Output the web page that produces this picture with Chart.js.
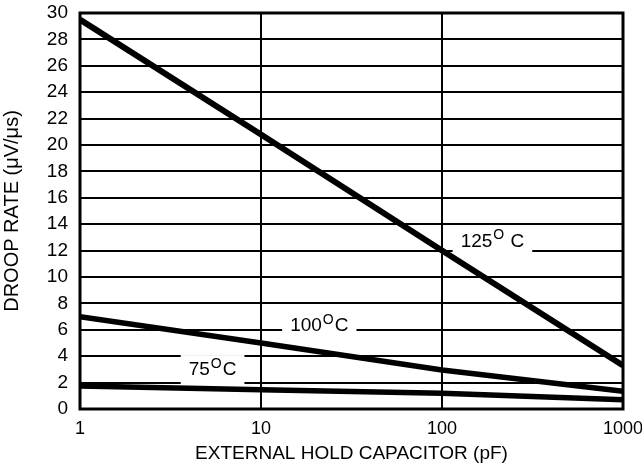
<!DOCTYPE html>
<html>
<head>
<meta charset="utf-8">
<script src="https://cdn.jsdelivr.net/npm/chart.js@4/dist/chart.umd.min.js"></script>
<style>
  html, body { margin: 0; padding: 0; background: #ffffff; }
  #wrap { width: 642px; height: 465px; position: relative; }
</style>
</head>
<body>
<div id="wrap"><canvas id="droopChart"></canvas></div>
<script>
const capacitance = [1, 10, 100, 1000];
const droop125 = [29.5, 20.8, 12.0, 3.3];
const droop100 = [7.0, 5.0, 2.95, 1.35];
const droop75 = [1.75, 1.45, 1.2, 0.7];
const xTicks = [1, 10, 100, 1000];
const yTicks = [0, 2, 4, 6, 8, 10, 12, 14, 16, 18, 20, 22, 24, 26, 28, 30];

const curveLabels = [
    { num: '125', gap: ' ', x: 190, y: 12.7 },
    { num: '100', gap: '', x: 21, y: 6.3 },
    { num: '75', gap: '', x: 5.4, y: 2.95 }
];

const font = '"Liberation Sans", Arial, Helvetica, sans-serif';

function toPoints(values) {
    return capacitance.map((c, i) => ({ x: c, y: values[i] }));
}

function lineSet(label, values, width) {
    return {
        label: label,
        data: toPoints(values),
        borderColor: '#000000',
        borderWidth: width,
        pointRadius: 0,
        tension: 0,
        fill: false
    };
}

const curveLabelPlugin = {
    id: 'curveLabels',
    beforeDatasetsDraw(chart) {
        const ctx = chart.ctx;
        const xs = chart.scales.x;
        const ys = chart.scales.y;
        ctx.save();
        curveLabels.forEach(l => {
            const big = '19px ' + font;
            const small = '14px ' + font;
            ctx.font = big;
            const w1 = ctx.measureText(l.num).width;
            const wc = ctx.measureText(l.gap + 'C').width;
            ctx.font = small;
            const wo = ctx.measureText('O').width;
            const total = w1 + 1 + wo + 1 + wc;
            const cx = xs.getPixelForValue(l.x);
            const cy = ys.getPixelForValue(l.y);
            ctx.fillStyle = '#ffffff';
            ctx.fillRect(cx - total / 2 - 8, cy - 15, total + 16, 30);
            ctx.fillStyle = '#000000';
            ctx.textBaseline = 'middle';
            ctx.textAlign = 'left';
            let x = cx - total / 2;
            ctx.font = big;
            ctx.fillText(l.num, x, cy);
            x += w1 + 1;
            ctx.font = small;
            ctx.fillText('O', x, cy - 6);
            x += wo + 1;
            ctx.font = big;
            ctx.fillText(l.gap + 'C', x, cy);
        });
        ctx.restore();
    },
    afterDraw(chart) {
        const a = chart.chartArea;
        const ctx = chart.ctx;
        ctx.save();
        ctx.strokeStyle = '#000000';
        ctx.lineWidth = 3;
        ctx.strokeRect(a.left, a.top, a.right - a.left, a.bottom - a.top);
        ctx.restore();
    }
};

function createDroopChart() {
    const ctx = document.getElementById('droopChart').getContext('2d');

    const config = {
        type: 'line',
        data: {
            datasets: [
                lineSet('125°C', droop125, 6),
                lineSet('100°C', droop100, 5.5),
                lineSet('75°C', droop75, 5.5)
            ]
        },
        options: {
            responsive: true,
            maintainAspectRatio: false,
            animation: false,
            layout: { padding: { top: 13, right: 19, left: 0, bottom: 0 } },
            plugins: {
                legend: { display: false },
                tooltip: { enabled: false }
            },
            scales: {
                x: {
                    type: 'logarithmic',
                    min: 1,
                    max: 1000,
                    afterBuildTicks: scale => {
                        scale.ticks = xTicks.map(v => ({ value: v }));
                    },
                    afterFit: scale => {
                        scale.height = 56;
                        scale.paddingLeft = 0;
                        scale.paddingRight = 0;
                    },
                    ticks: {
                        color: '#000000',
                        font: { family: font, size: 18 },
                        padding: 9,
                        maxRotation: 0,
                        autoSkip: false,
                        callback: v => String(v)
                    },
                    grid: { color: '#000000', lineWidth: 2, drawTicks: false },
                    border: { display: false },
                    title: {
                        display: true,
                        text: 'EXTERNAL HOLD CAPACITOR (pF)',
                        color: '#000000',
                        font: { family: font, size: 19 },
                        padding: { top: 0, bottom: 0 }
                    }
                },
                y: {
                    min: 0,
                    max: 30,
                    afterBuildTicks: scale => {
                        scale.ticks = yTicks.map(v => ({ value: v }));
                    },
                    afterFit: scale => {
                        scale.width = 80;
                        scale.paddingTop = 0;
                        scale.paddingBottom = 0;
                    },
                    ticks: {
                        color: '#000000',
                        font: { family: font, size: 19 },
                        padding: 12,
                        autoSkip: false
                    },
                    grid: { color: '#000000', lineWidth: 2, drawTicks: false },
                    border: { display: false },
                    title: {
                        display: true,
                        text: 'DROOP RATE (μV/μs)',
                        color: '#000000',
                        font: { family: font, size: 20 },
                        padding: { top: 0, bottom: 2 }
                    }
                }
            }
        },
        plugins: [curveLabelPlugin]
    };

    new Chart(ctx, config);
}

createDroopChart();
</script>
</body>
</html>
